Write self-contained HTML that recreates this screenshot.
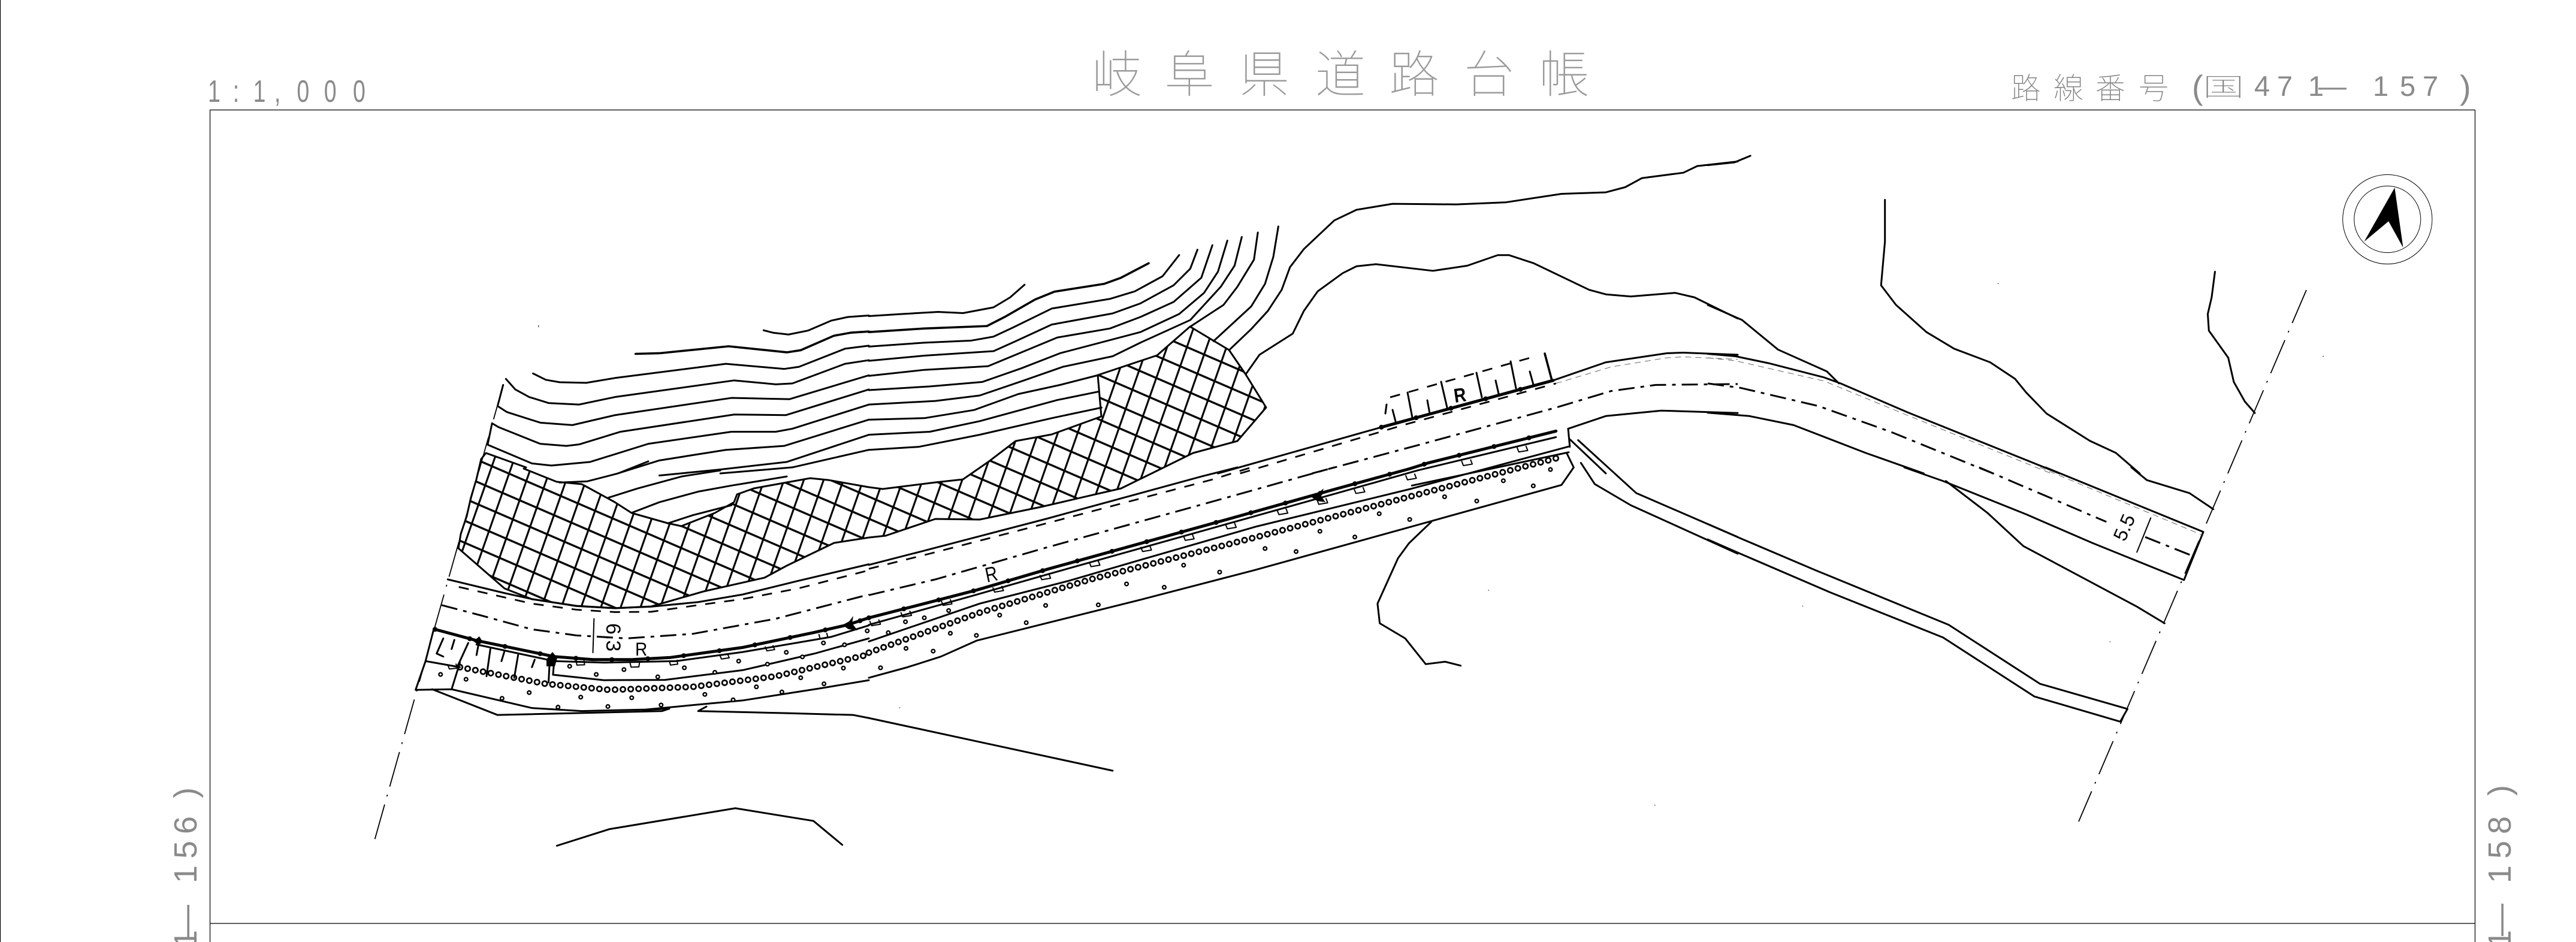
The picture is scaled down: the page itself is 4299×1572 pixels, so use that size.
<!DOCTYPE html>
<html lang="ja"><head><meta charset="utf-8"><title>岐阜県道路台帳</title>
<style>
html,body{margin:0;padding:0;background:#fff;width:4299px;height:1572px;overflow:hidden}
svg{display:block}
path,polygon{fill:none;stroke:#000;stroke-width:3;vector-effect:non-scaling-stroke;stroke-linejoin:round;stroke-linecap:round}
.f{stroke-width:1.2;stroke-linecap:butt}
.th{stroke-width:5}
.b{stroke-width:8;stroke-dasharray:.1 60}
.dh{stroke-dasharray:17 15;stroke-linecap:butt;stroke-width:2.8}
.tn{stroke-dasharray:10 7;stroke-width:.9;stroke-linecap:butt;stroke:#555}
.cl{stroke-dasharray:27 10 6 10;stroke-linecap:butt;stroke-width:3}
.bd{stroke-dasharray:60 14 3 14;stroke-linecap:butt;stroke-width:1.8}
.s1{stroke-width:11;stroke-dasharray:.1 13}
.s2{stroke:#fff;stroke-width:5.5;stroke-dasharray:.1 13}
.d1{stroke-width:8}
.d2{stroke:#fff;stroke-width:3.2}
.sq{stroke-width:2}
.t{fill:#8a8a8a;font-family:"Liberation Sans","Noto Sans CJK JP",sans-serif;font-weight:100}
.c{fill:#9a9a9a;font-family:"Noto Sans CJK JP","Noto Sans CJK SC",sans-serif;font-weight:100}
.c2{fill:#808080;font-family:"Noto Sans CJK JP","Noto Sans CJK SC",sans-serif;font-weight:100}
.k{fill:#000;font-family:"Liberation Sans",sans-serif}
</style></head><body>
<svg xmlns="http://www.w3.org/2000/svg" width="4299" height="1572" viewBox="0 0 4299 1572">
<defs>
<pattern id="h" patternUnits="userSpaceOnUse" width="100" height="100" patternTransform="matrix(.287 .124 -.112 .32 1628 832)">
<rect x="0" y="-5" width="100" height="10" fill="#000"/><rect x="0" y="95" width="100" height="10" fill="#000"/>
<rect x="-5" y="0" width="10" height="100" fill="#000"/><rect x="95" y="0" width="10" height="100" fill="#000"/>
</pattern>
</defs>
<rect width="4299" height="1572" fill="#fff"/>

<!-- sheet frame -->
<path class="f" d="M.5 0V1572M350.5 1572V183.5H4130.5V1572M350.5 1541H4130.5"/>

<!-- labels -->
<text class="t" font-size="52" transform="translate(0,170) scale(.72,1)" x="482 540 587 636 688 751 818">1:1,000</text>
<text class="c" font-size="84" y="154" x="1822 1943 2068 2195 2318 2443 2568">岐阜県道路台帳</text>
<text class="c2" font-size="50" y="165" x="3356 3427 3497 3569">路線番号</text>
<text class="t" font-size="56" y="165" x="3658">(</text>
<text class="c2" font-size="42" transform="translate(3676,160) scale(1.65,1)">国</text>
<text class="t" font-size="47" y="160" x="3762 3800 3852 3869">471—</text>
<text class="t" font-size="47" y="160" x="3960 4005 4043">157</text>
<text class="t" font-size="56" y="165" x="4105">)</text>
<g transform="translate(328,1572) rotate(-90)">
<text class="t" font-size="54" x="-10 8 98 139 180 240">1—156)</text>
</g>
<g transform="translate(4190,1572) rotate(-90)">
<text class="t" font-size="54" x="-10 10 98 139 180 244">1—158)</text>
</g>

<!-- north mark -->
<ellipse cx="3984.3" cy="366" rx="74.6" ry="74.6" fill="none" stroke="#000" stroke-width="1"/>
<ellipse cx="3984.3" cy="366" rx="55.5" ry="55.6" fill="none" stroke="#000" stroke-width="1"/>
<polygon points="3996.4,313.3 4010.5,413.3 3986.2,369.3 3945.4,403.3" style="fill:#000;stroke:none"/>

<!-- hatch area -->
<polygon style="fill:url(#h);stroke-width:3" points="811,756 878,780 874,782 929,804 971,808 1026,838 1054,856 1114,873 1137,878 1193,856 1225,838 1230,825 1258,815 1352,798 1382,801 1450,813 1473,816 1561,805 1607,800 1649,771 1695,736 1755,725 1838,695 1832,626 1931,593 1986,545 2051,584 2079,625 2113,680 2065,736 1991,756 1922,790 1871,815 1737,846 1635,867 1561,866 1478,894 1450,897 1392,906 1313,944 1276,964 1174,987 1087,1012 1026,1015 962,1011 888,1000 842,982 765,915 769,891 779,861 786,830 795,800 803,766"/>

<!-- property boundaries (dash dot) -->
<path class="bd" d="M840 642L624 1406"/>
<path class="bd" d="M3849 484L3469 1371"/>

<!-- T1 -->
<g transform="scale(.92474,.50383)">
<path d="M1378 1094L1395 1102 1423 1108 1458 1095 1500 1062 1530 1050 1568 1045"/>
<path style="stroke-width:3.6" d="M1147 1172L1190 1170 1315 1147 1420 1167 1445 1160 1505 1112 1535 1102 1568 1098"/>
<path d="M962 1237L985 1258 1010 1266 1058 1268 1110 1252 1310 1205 1415 1222 1442 1215 1525 1155 1568 1145"/>
<path d="M913 1255L930 1290 955 1315 990 1335 1045 1340 1110 1315 1325 1260 1400 1273 1430 1270 1525 1205 1568 1193"/>
<path d="M908 1275L898 1345 915 1365 975 1400 1033 1408 1110 1375 1320 1318 1425 1322 1568 1243"/>
<path d="M888 1402L900 1415 975 1470 1022 1477 1045 1472 1120 1430 1325 1373 1418 1375 1568 1290"/>
<path d="M888 1402L880 1473 960 1535 995 1542 1065 1530 1170 1470 1320 1430 1400 1430 1430 1420 1568 1340"/>
<path d="M1115 1568L1190 1525 1310 1490 1415 1477 1568 1390"/>
<path d="M1190 1575L1300 1555 1420 1530 1568 1440"/>
<path d="M1300 1568L1430 1548 1568 1490"/>
<path style="stroke-width:1" d="M972 1078v5"/>
</g>

<!-- T2 -->
<g transform="translate(1450,0) scale(.92474,.50383)">
<path d="M0 1047L60 1040 125 1033 170 1037 225 1018 255 985 281 943"/>
<path style="stroke-width:3.6" d="M0 1100L100 1088 213 1080 245 1050 300 992 335 966 425 940 455 920 505 872"/>
<path d="M0 1148L100 1135 185 1128 225 1115 260 1085 330 1022 435 990 480 965 530 915 560 845"/>
<path d="M0 1195L100 1178 225 1163 265 1130 330 1075 440 1038 490 1005 550 945 580 890 593 827"/>
<path d="M0 1245L100 1225 215 1213 265 1175 340 1118 435 1088 490 1050 550 1000 600 920 620 812"/>
<path d="M0 1292L110 1280 205 1265 275 1220 345 1170 490 1100 560 1040 605 970 630 900 647 797"/>
<path d="M0 1340L120 1328 200 1310 280 1260 350 1215 440 1180 490 1135 580 1060 635 950 660 880 673 785"/>
<path d="M0 1390L100 1385 190 1358 270 1305 345 1275 413 1243"/>
<path d="M0 1440L110 1430 200 1395 340 1325 415 1297"/>
<path d="M0 1490L90 1480 200 1440 330 1385 420 1350"/>
<path d="M702 770L695 860 665 950 640 1010 580 1082"/>
<path d="M739 750L730 850 715 940 690 1015 622 1130"/>
<path d="M680 1240L705 1175 765 1105 785 1030 810 965 855 905 880 882 915 875 1018 897 1080 880 1135 845 1155 845 1200 872 1300 960 1330 975 1375 982 1455 970 1490 985 1568 1055"/>
<path d="M650 1160L690 1090 720 1030 745 960 760 885 785 825 840 730 880 695 945 675 1060 677 1150 670 1250 642 1330 637 1365 620 1395 590 1470 572 1495 550 1568 535"/>
<!-- road -->
<path d="M630 1568L925 1415 1235 1260 1330 1200 1440 1170 1470 1168 1568 1175"/>
<path class="th" d="M925 1415L1235 1260"/>
<path class="b" d="M925 1415L1235 1260"/>
<path class="dh" d="M670 1568L970 1405 1240 1270"/>
<path class="tn" d="M1240 1270L1340 1215 1440 1185 1470 1182 1568 1190"/>
<path class="cl" d="M800 1568L1000 1470 1240 1350 1340 1295 1420 1275 1568 1272"/>
<path d="M1262 1420L1330 1378 1430 1360 1568 1368"/>
<path d="M1262 1420L1265 1480M1265 1455L1330 1568"/>
</g>

<!-- upper tick box real coords -->
<path class="dh" d="M2320 663L2561 595"/>
<path d="M2314 675L2312 690M2324 684L2330 707M2349 655L2357 697M2382 668L2386 690M2405 637L2415 680M2464 622L2473 663M2496 635L2501 657M2521 603L2530 648M2553 620L2559 642"/>
<path style="stroke-width:3.6" d="M2578 590L2590 635"/>
<text class="k" font-size="33" font-weight="700" transform="translate(2428,672) rotate(-8) scale(.85,1)">R</text>

<!-- T3 -->
<g transform="translate(2850,0) scale(.92411,.50383)">
<path d="M0 547L48 538 77 516"/>
<path d="M0 1010L62 1060 127 1158 215 1230 237 1270"/>
<path d="M320 662L320 800 313 945 340 1010 395 1100 445 1155 510 1200 555 1255 575 1300 612 1370 690 1460 737 1500 780 1568"/>
<path d="M916 900L910 985 903 1040 905 1095 940 1185 950 1265 970 1330 988 1368"/>
<path d="M0 1172L50 1180 110 1203 210 1250 240 1270 360 1365 635 1568"/>
<path class="tn" d="M0 1185L50 1195 210 1262 360 1375 620 1568"/>
<path class="cl" d="M0 1270L60 1285 200 1345 330 1430 515 1568"/>
<path d="M0 1367L75 1378 155 1408 285 1500 390 1568"/>
<path style="stroke-width:1" d="M524 939h1M1111 1180h1"/>
</g>

<!-- T4 -->
<g transform="translate(0,780) scale(.92474,.5051)">
<path d="M1010 50L1060 46 1115 20 1170 -20"/>
<path d="M1098 100L1150 70 1230 30 1300 10"/>
<path d="M1140 150L1190 115 1260 80 1320 60 1420 30"/>
<path d="M1205 185L1250 158 1320 125"/>
<!-- road upper -->
<path d="M808 370L910 415 960 435 1040 458 1110 465 1175 460 1260 445 1340 420 1440 375 1568 320"/>
<path class="dh" d="M828 395L960 450 1040 470 1110 478 1175 477 1260 455 1340 435 1440 400 1568 340"/>
<path class="cl" d="M797 455L870 490 960 535 1040 555 1130 565 1250 550 1400 500 1568 420"/>
<!-- curb -->
<path class="th" d="M785 535L860 572 1000 625 1070 635 1140 635 1210 628 1340 595 1470 545 1530 520 1568 497"/>
<path class="b" d="M785 535L860 572 1000 625 1070 635 1140 635 1210 628 1340 595 1470 545 1530 520 1568 497"/>
<path d="M860 585L1000 640 1090 645 1220 640 1340 610 1500 560 1568 522"/>
<path d="M992 640L990 710M1000 640L998 685 1090 703 1200 702 1340 670 1470 615 1568 565"/>
<path class="s1" d="M830 660L985 715 1100 735 1250 725 1400 690 1568 618"/>
<path class="s2" d="M830 660L985 715 1100 735 1250 725 1400 690 1568 618"/>
<path d="M768 640L830 660M782 540L768 640 750 735 815 733M830 645L815 733 960 795 1050 805 1165 800 1340 770 1480 730 1568 703"/>
<path d="M780 733L898 818 1195 805 1208 797 1160 801M1275 790L1260 805 1420 812 1540 818 1568 828"/>
<path d="M800 565L788 615 800 625M820 570L815 600M845 580L825 660M863 590L860 620M885 600L878 690M910 610L905 640M935 620L928 695M965 635L960 660"/>
<path d="M1005 1250L1100 1195 1327 1126 1468 1168 1520 1247"/>
<path d="M1072 500L1070 612" style="stroke-width:2"/>
<path class="sq" d="M808 652l3 14 15-3-3-13M1040 640l1 13 14-1-1-13M1137 646l2 14 14-1 1-13M1208 640l2 13 13-3-1-13M1299 620l3 13 14-4-3-13M1381 593l3 13 14-4-3-13M1478 552l2 14 14-5-2-13"/>
<path class="d1" d="M795 684h.1M841 700h.1M906 763h.1M955 744h.1M1007 792h.1M1048 759h.1M1097 790h.1M1140 761h.1M1193 785h.1M1272 750h.1M1323 768h.1M1365 725h.1M1411 742h.1M1487 715h.1M1522 663h.1M1445 695h.1M1028 657h.1M1076 684h.1M1126 668h.1M1187 692h.1M1235 662h.1M1290 677h.1M1333 640h.1M1385 650h.1M1419 611h.1M1448 626h.1M1486 580h.1M1524 586h.1M1565 540h.1"/>
<path class="d2" d="M795 684h.1M841 700h.1M906 763h.1M955 744h.1M1007 792h.1M1048 759h.1M1097 790h.1M1140 761h.1M1193 785h.1M1272 750h.1M1323 768h.1M1365 725h.1M1411 742h.1M1487 715h.1M1522 663h.1M1445 695h.1M1028 657h.1M1076 684h.1M1126 668h.1M1187 692h.1M1235 662h.1M1290 677h.1M1333 640h.1M1385 650h.1M1419 611h.1M1448 626h.1M1486 580h.1M1524 586h.1M1565 540h.1"/>
</g>

<!-- T5 -->
<g transform="translate(1450,780) scale(.92474,.5051)">
<path d="M0 322L100 275 320 170 600 30 665 0"/>
<path class="dh" d="M0 335L110 285 320 185 620 40 690 0"/>
<path class="cl" d="M0 422L120 370 320 265 665 90 840 0"/>
<path class="th" d="M0 497L100 450 195 405 325 335 650 170 845 70 975 5 1010 -15 1240 -120"/>
<path class="b" d="M0 497L100 450 195 405 325 335 650 170 845 70 975 5 1010 -15 1240 -120"/>
<path d="M0 520L195 420 325 352 650 185 845 85 990 10 1240 -100"/>
<path d="M0 575L200 450 360 375 510 295 700 195 980 70 1263 -69"/>
<path d="M980 60L1263 -50"/>
<path class="s1" d="M0 612L200 480 400 370 700 230 1000 85 1240 -30"/>
<path class="s2" d="M0 612L200 480 400 370 700 230 1000 85 1240 -30"/>
<path d="M0 695L70 660 130 625 195 572 495 435 695 340 1010 180 1250 58 1272 0 1260 -45"/>
<path d="M0 828L440 1002"/>
<path d="M1015 180L975 250 955 300 918 450 922 515 968 565 1005 650 1040 642 1068 655"/>
<path d="M1280 -90L1385 85 1568 230"/>
<path d="M1285 -15L1310 55 1375 125 1568 285"/>
<path class="sq" d="M2 509l3 14 16-5-3-14M58 480l3 14 16-5-3-14M131 442l3 14 16-5-3-14M224 398l3 14 16-5-3-14M309 357l3 14 16-5-3-14M398 314l3 14 16-5-3-14M491 264l3 14 16-5-3-14M568 227l3 14 16-5-3-14M644 189l3 14 16-5-3-14M737 142l3 14 16-5-3-14M809 108l3 14 16-5-3-14M876 72l3 14 16-5-3-14M969 27l3 14 16-5-3-14M1070 -20l3 14 16-5-3-14M1170 -65l3 14 16-5-3-14"/>
<path class="d1" d="M21 662h.1M67 598h.1M116 607h.1M147 548h.1M194 555h.1M284 513h.1M236 488h.1M319 456h.1M414 454h.1M465 385h.1M533 396h.1M633 346h.1M568 323h.1M715 268h.1M771 278h.1M877 230h.1M814 211h.1M921 153h.1M976 172h.1M1039 97h.1M1097 111h.1M1145 44h.1M1199 61h.1M1230 7h.1M66 510h.1M35 546h.1M100 497h.1M144 473h.1"/>
<path class="d2" d="M21 662h.1M67 598h.1M116 607h.1M147 548h.1M194 555h.1M284 513h.1M236 488h.1M319 456h.1M414 454h.1M465 385h.1M533 396h.1M633 346h.1M568 323h.1M715 268h.1M771 278h.1M877 230h.1M814 211h.1M921 153h.1M976 172h.1M1039 97h.1M1097 111h.1M1145 44h.1M1199 61h.1M1230 7h.1M66 510h.1M35 546h.1M100 497h.1M144 473h.1"/>
<path style="stroke-width:1" d="M55 794h1M1118 406h1M1418 1116h1"/>
</g>

<!-- T6 -->
<g transform="translate(2850,780) scale(.92411,.5051)">
<path d="M765 0L793 42 870 85 913 138"/>
<path d="M610 0L895 213 860 372 695 250 575 155 425 45 355 0"/>
<path class="tn" d="M600 0L895 225"/>
<path class="cl" d="M490 0L720 180"/>
<path class="cl" d="M790 230L875 292"/>
<path d="M430 45L505 150 570 260 775 460 825 515"/>
<path d="M0 187L60 235 195 340 435 520 600 715 758 798 745 840 590 757 425 562 220 412 65 290 0 238"/>
<path style="stroke-width:2" d="M800 167L775 280"/>
<path style="stroke-width:1" d="M171 458h1M726 576h1"/>
</g>

<!-- arrow blobs -->
<polygon style="fill:#000;stroke:none" points="2209,815 2205,828 2212,838 2198,836 2188,829 2200,823"/>
<polygon style="fill:#000;stroke:none" points="1424,1028 1422,1040 1431,1052 1416,1050 1406,1043 1417,1037"/>
<polygon style="fill:#000;stroke:none" points="922,1088 930,1098 926,1112 912,1112 912,1100"/>
<polygon style="fill:#000;stroke:none" points="800,1062 806,1072 798,1076 790,1070"/>

<!-- road labels -->
<text class="k" font-size="33" transform="translate(1060,1094) scale(.85,.95)">R</text>
<text class="k" font-size="35" transform="translate(1647,972) rotate(-12) scale(.8,1)">R</text>
<text class="k" font-size="34" transform="translate(1012,1040) rotate(90)">6.3</text>
<text class="k" font-size="32" transform="translate(3546,905) rotate(-66)">5.5</text>
</svg>
</body></html>
